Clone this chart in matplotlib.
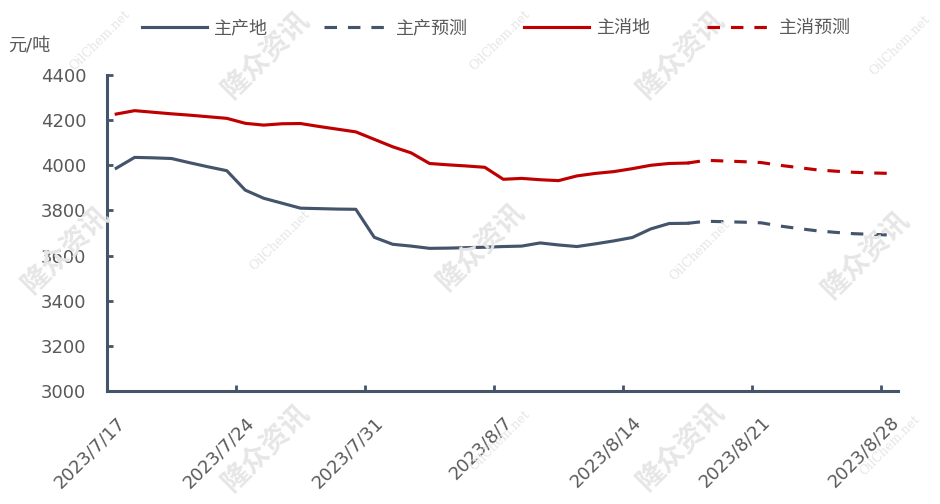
import matplotlib
matplotlib.use('Agg')
import matplotlib.pyplot as plt
import matplotlib.transforms as mtransforms
import pandas as pd

plt.rcParams['font.family'] = ['DejaVu Sans', 'Noto Sans CJK SC']
plt.rcParams['axes.unicode_minus'] = False

# 数据（按图读取，日度）
actual_dates = pd.date_range('2023-07-17', '2023-08-17', freq='D')
forecast_dates = pd.date_range('2023-08-17', '2023-08-28', freq='D')

prod_actual = [3987, 4035, 4033, 4030, 4011, 3993, 3976, 3890, 3854, 3832,
               3810, 3808, 3806, 3805, 3681, 3650, 3642, 3632, 3633, 3635,
               3637, 3640, 3642, 3656, 3647, 3640, 3652, 3665, 3680, 3718,
               3742, 3743]
cons_actual = [4227, 4242, 4235, 4228, 4222, 4215, 4208, 4186, 4178, 4184,
               4185, 4172, 4160, 4148, 4115, 4082, 4055, 4008, 4002, 3997,
               3991, 3938, 3942, 3936, 3932, 3953, 3964, 3972, 3985, 4000,
               4008, 4010]
prod_forecast = [3743, 3752, 3750, 3748, 3745, 3731, 3720, 3710, 3703, 3697,
                 3694, 3691]
cons_forecast = [4010, 4022, 4019, 4016, 4012, 4000, 3990, 3980, 3974, 3969,
                 3966, 3964]

series_names = ['主产地', '主产预测', '主消地', '主消预测']
tick_dates = pd.date_range('2023-07-17', '2023-08-28', freq='7D')
tick_labels = [f'{d.year}/{d.month}/{d.day}' for d in tick_dates]
y_ticks = list(range(3000, 4401, 200))

BLUE = '#44546A'
RED = '#C00000'
GREY = '#595959'
HALF_DAY = pd.Timedelta(hours=12)  # Excel 日期轴：点位于刻度之间

# 水印
wm_cn = [(265, 55), (680, 55), (65, 250), (480, 247), (865, 255), (265, 448), (680, 447)]
wm_en = [(100, 40), (500, 40), (900, 45), (280, 240), (700, 250), (500, 440), (890, 445)]


def main():
    fig = plt.figure(figsize=(9.4, 5.04), dpi=100)
    ax = fig.add_axes([107 / 940, 1 - 391 / 504, (898 - 107) / 940, (391 - 75) / 504])

    for x, y in wm_cn:
        fig.text(x / 940, 1 - y / 504, '隆众资讯', rotation=45, ha='center', va='center',
                 fontsize=20, fontweight='bold', color='#e6e6e6',
                 family=['Noto Sans CJK SC'], zorder=0)
    for x, y in wm_en:
        fig.text(x / 940, 1 - y / 504, 'OilChem.net', rotation=45, ha='center', va='center',
                 fontsize=9, color='#e6e6e6', family=['DejaVu Serif'], zorder=0)
    ax.patch.set_alpha(0)

    lw = 2.25
    dash = (0, (4, 3.5))
    ax.plot(actual_dates + HALF_DAY, prod_actual, color=BLUE, lw=lw, label=series_names[0])
    ax.plot(forecast_dates + HALF_DAY, prod_forecast, color=BLUE, lw=lw, ls=dash,
            label=series_names[1])
    ax.plot(actual_dates + HALF_DAY, cons_actual, color=RED, lw=lw, label=series_names[2])
    ax.plot(forecast_dates + HALF_DAY, cons_forecast, color=RED, lw=lw, ls=dash,
            label=series_names[3])

    ax.set_xlim(pd.Timestamp('2023-07-17'), pd.Timestamp('2023-08-28') + pd.Timedelta(hours=22))
    ax.set_ylim(3000, 4400)
    ax.set_yticks(y_ticks)
    ax.set_xticks(tick_dates)
    ax.set_xticklabels(tick_labels, rotation=45, ha='right', va='top',
                       rotation_mode='anchor')

    for s in ['top', 'right']:
        ax.spines[s].set_visible(False)
    for s in ['left', 'bottom']:
        ax.spines[s].set_color(BLUE)
        ax.spines[s].set_linewidth(2.2)

    ax.tick_params(axis='y', direction='in', length=4, width=2, color=BLUE,
                   labelsize=13, labelcolor=GREY, pad=15)
    ax.tick_params(axis='x', direction='in', length=4, width=2, color=BLUE,
                   labelsize=13, labelcolor=GREY, pad=16)
    offset = mtransforms.ScaledTranslation(9 / 100, 0, fig.dpi_scale_trans)
    for lab in ax.get_xticklabels():
        lab.set_transform(lab.get_transform() + offset)

    fig.text(8 / 940, 1 - 46 / 504, '元/吨', ha='left', va='center', fontsize=13,
             color=GREY)

    leg = fig.legend(loc='center', bbox_to_anchor=(0.528, 1 - 28 / 504), ncol=4,
                     frameon=False, fontsize=13, handlelength=3.6, handletextpad=0.4,
                     columnspacing=3.1)
    for t in leg.get_texts():
        t.set_color(GREY)

    fig.savefig('out.png', dpi=100)


if __name__ == '__main__':
    main()
